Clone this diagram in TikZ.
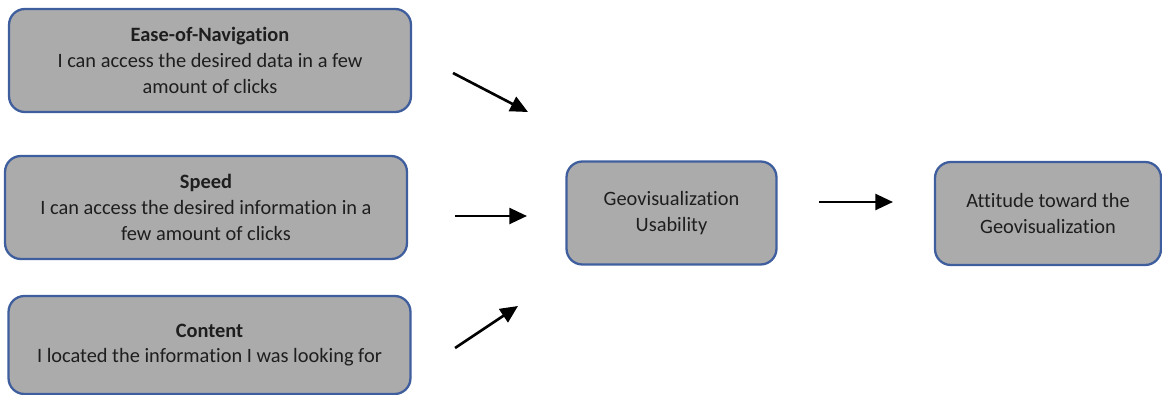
\documentclass[tikz,border=0pt]{standalone}
\usepackage{fontspec}
\setmainfont[Ligatures=NoCommon]{Carlito}
\usetikzlibrary{arrows.meta}

\definecolor{boxfill}{RGB}{171,171,171}
\definecolor{boxline}{RGB}{62,94,158}
\definecolor{boxtext}{RGB}{30,30,30}

\tikzset{
  factor/.style={draw=boxline,fill=boxfill,line width=1.3pt,rounded corners=9pt,
    minimum width=8.04cm,minimum height=2.06cm,align=center,text=boxtext,
    font=\fontsize{11.6}{14.6}\selectfont},
  outcome/.style={factor,minimum width=4.2cm},
  link/.style={line width=1.5pt,-{Triangle[length=10pt,width=9pt]}}
}

\begin{document}
\begin{tikzpicture}[x=0.02cm,y=-0.02cm]
\useasboundingbox (0,0) rectangle (1162,395);
            % Factors
\node[factor] (ease)    at (210,60.5) {\textbf{Ease-of-Navigation}\\I can access the desired data in a few\\amount of clicks};
\node[factor] (speed)   at (206,207.5) {\textbf{Speed}\\I can access the desired information in a\\few amount of clicks};
\node[factor,minimum height=1.96cm] (content) at (209.5,345) {\textbf{Content}\\I located the information I was looking for};
            % Outcomes
\node[outcome] (usab)   at (671.5,213) {Geovisualization\\Usability};
\node[outcome,minimum width=4.52cm] (attit) at (1048,213.5) {Attitude toward the\\Geovisualization};
%Arrow ends
\coordinate (e1) at (453,73);   \coordinate (e2) at (528,112);
\coordinate (s1) at (455,216);  \coordinate (s2) at (527,216);
\coordinate (c1) at (455,348);  \coordinate (c2) at (518,306);
\coordinate (u1) at (819,202);  \coordinate (u2) at (893,202);
%Arrows
\draw[link] (e1) -- (e2);
\draw[link] (s1) -- (s2);
\draw[link] (c1) -- (c2);
\draw[link] (u1) -- (u2);
\end{tikzpicture}
\end{document}
